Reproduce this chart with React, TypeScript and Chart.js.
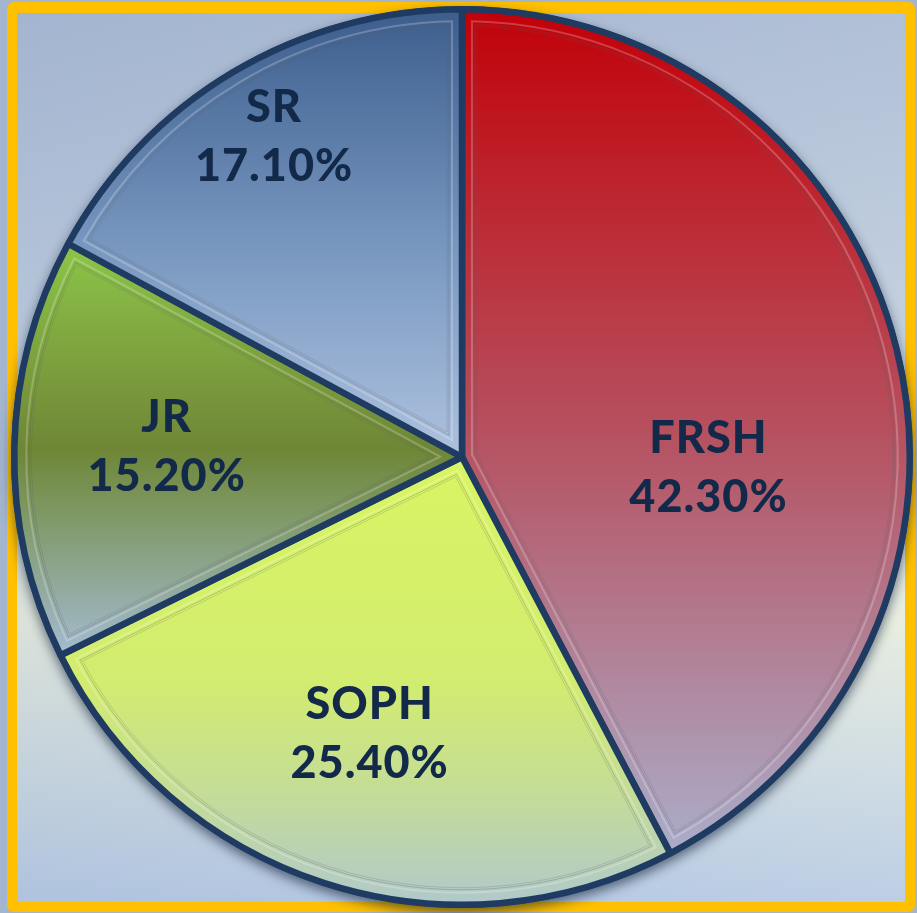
import { useEffect, useRef } from "react";
import { Chart, registerables } from "chart.js";

Chart.register(...registerables);

// ---- data ----
const categories = ["FRSH", "SOPH", "JR", "SR"];
const shares = [42.3, 25.4, 15.2, 17.1];
const shareLabels = ["42.30%", "25.40%", "15.20%", "17.10%"];

// ---- styles ----
const SLICE_STOPS: [number, string][][] = [
  [[0, "#c20008"], [0.25, "#bc2a34"], [0.5, "#b6505f"], [0.75, "#b27f94"], [1, "#aaaecb"]],
  [[0, "#d9f562"], [0.5, "#d2ec70"], [0.75, "#c4dc98"], [1, "#b0c8cc"]],
  [[0, "#8cc648"], [0.4, "#76923a"], [0.5, "#6e8636"], [0.65, "#7e9864"], [0.82, "#90a898"], [1, "#a4bcd2"]],
  [[0, "#3c5c8c"], [0.5, "#7494bd"], [1, "#aec2df"]],
];
const LABEL_RADIUS = [0.551, 0.65, 0.66, 0.83];
const LABEL_ANGLE_SHIFT_DEG = [16.2, 0.5, 1, 0.4];
const BORDER = "#1f3b62";
const TEXT = "#13294a";

function sliceGeom(chart: any, i: number) {
  const a = chart.chartArea;
  const cx = (a.left + a.right) / 2;
  const cy = (a.top + a.bottom) / 2;
  const r = Math.min(a.right - a.left, a.bottom - a.top) / 2;
  const total = shares.reduce((s, v) => s + v, 0);
  let acc = 0;
  for (let k = 0; k < i; k++) acc += shares[k];
  const a0 = -Math.PI / 2 + (acc / total) * Math.PI * 2;
  const a1 = a0 + (shares[i] / total) * Math.PI * 2;
  return { cx, cy, r, a0, a1 };
}

function sliceFill(ctx: any) {
  const chart = ctx.chart;
  const i = ctx.dataIndex;
  if (!chart.chartArea || i === undefined) return "#888";
  const { cx, cy, r, a0, a1 } = sliceGeom(chart, i);
  const ys = [cy, cy + r * Math.sin(a0), cy + r * Math.sin(a1)];
  const inRange = (t: number) => {
    for (let k = -2; k <= 2; k++) {
      const tt = t + k * Math.PI * 2;
      if (tt >= a0 && tt <= a1) return true;
    }
    return false;
  };
  if (inRange(-Math.PI / 2)) ys.push(cy - r);
  if (inRange(Math.PI / 2)) ys.push(cy + r);
  const minY = Math.min(...ys);
  const maxY = Math.max(...ys);
  const g = chart.ctx.createLinearGradient(0, minY, 0, maxY);
  for (const [p, c] of SLICE_STOPS[i]) g.addColorStop(p, c);
  return g;
}

const framePlugin = {
  id: "frame",
  beforeDraw(chart: any) {
    const ctx = chart.ctx;
    const W = chart.width;
    const H = chart.height;
    ctx.save();
    ctx.fillStyle = "#a3b5cf";
    ctx.fillRect(0, 0, W, H);
    ctx.fillStyle = "#ffc000";
    ctx.beginPath();
    (ctx as any).roundRect(7, 2, 908, 910, 7);
    ctx.fill();
    const g = ctx.createLinearGradient(0, 13, 0, 902);
    g.addColorStop(0, "#a8b9d2");
    g.addColorStop(0.35, "#bccbdc");
    g.addColorStop(0.68, "#e6ecdc");
    g.addColorStop(1, "#b5c9e3");
    ctx.fillStyle = g;
    ctx.fillRect(17, 13, 888, 889);
    const h = ctx.createLinearGradient(17, 0, 905, 0);
    h.addColorStop(0, "rgba(120,140,190,0.10)");
    h.addColorStop(1, "rgba(255,255,255,0.10)");
    ctx.fillStyle = h;
    ctx.fillRect(17, 13, 888, 889);
    ctx.restore();
  },
  beforeDatasetsDraw(chart: any) {
    const arc = chart.getDatasetMeta(0).data[0];
    if (!arc) return;
    const ctx = chart.ctx;
    ctx.save();
    ctx.shadowColor = "rgba(10,25,50,0.6)";
    ctx.shadowBlur = 12;
    ctx.shadowOffsetY = 5;
    ctx.fillStyle = BORDER;
    ctx.beginPath();
    ctx.arc(arc.x, arc.y, arc.outerRadius + 3, 0, Math.PI * 2);
    ctx.fill();
    ctx.restore();
  },
  afterDatasetsDraw(chart: any) {
    const ctx = chart.ctx;
    const arcs = chart.getDatasetMeta(0).data;
    // inner bevel lines
    arcs.forEach((arc: any) => {
      const { x, y, startAngle, endAngle, outerRadius } = arc;
      const half = (endAngle - startAngle) / 2;
      const mid = startAngle + half;
      const drawInset = (d: number, color: string, w: number) => {
        const rr = outerRadius - d - 2;
        const dA = Math.asin(d / rr);
        const c = d / Math.sin(half);
        ctx.beginPath();
        ctx.moveTo(x + c * Math.cos(mid), y + c * Math.sin(mid));
        ctx.lineTo(x + rr * Math.cos(startAngle + dA), y + rr * Math.sin(startAngle + dA));
        ctx.arc(x, y, rr, startAngle + dA, endAngle - dA);
        ctx.closePath();
        ctx.strokeStyle = color;
        ctx.lineWidth = w;
        ctx.stroke();
      };
      ctx.save();
      drawInset(10, "rgba(255,255,255,0.22)", 2);
      drawInset(13, "rgba(90,90,100,0.30)", 1);
      drawInset(15, "rgba(90,90,100,0.22)", 1);
      ctx.restore();
    });
    // labels
    ctx.save();
    ctx.fillStyle = TEXT;
    ctx.textAlign = "center";
    ctx.textBaseline = "middle";
    ctx.font = "900 45px Lato, 'DejaVu Sans', sans-serif";
    try { (ctx as any).letterSpacing = "1px"; } catch (e) {}
    arcs.forEach((arc: any, i: number) => {
      const { x, y, startAngle, endAngle, outerRadius } = arc;
      const ang = (startAngle + endAngle) / 2 + (LABEL_ANGLE_SHIFT_DEG[i] * Math.PI) / 180;
      const rr = outerRadius * LABEL_RADIUS[i];
      const lx = x + rr * Math.cos(ang);
      const ly = y + rr * Math.sin(ang);
      ctx.fillText(categories[i], lx, ly - 29);
      ctx.fillText(shareLabels[i], lx, ly + 30);
    });
    ctx.restore();
  },
};

export default function App() {
  const ref = useRef<HTMLCanvasElement>(null);
  useEffect(() => {
    if (!ref.current) return;
    const chart = new Chart(ref.current, {
      type: "pie",
      data: {
        labels: categories,
        datasets: [
          {
            data: shares,
            backgroundColor: sliceFill as any,
            borderColor: BORDER,
            borderWidth: 6.5,
          },
        ],
      },
      options: {
        responsive: false,
        animation: false,
        layout: { padding: { left: 11, right: 4, top: 6, bottom: 5 } },
        plugins: { legend: { display: false }, tooltip: { enabled: false } },
      },
      plugins: [framePlugin],
    });
    return () => chart.destroy();
  }, []);
  return (
    <div style={{ position: "absolute", left: 0, top: 0, width: 917, height: 913 }}>
      <canvas ref={ref} width={917} height={913} style={{ display: "block" }} />
    </div>
  );
}
